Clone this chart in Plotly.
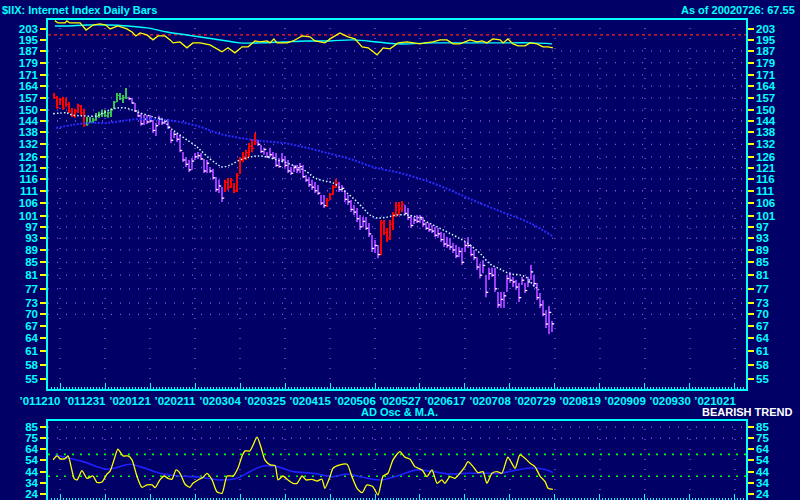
import plotly.graph_objects as go

# ---------------- data (day index: 0 = 2001-12-10, one unit per trading day) ----------------
days = list(range(-2, 165))

bar_high = [159.9, 158.1, 157.0, 157.6, 157.0, 154.6, 151.2, 150.7, 153.5, 152.9,
            150.7, 146.2, 146.2, 145.7, 148.4, 149.0, 150.1, 150.1, 149.0, 150.7,
            155.2, 159.9, 159.9, 158.7, 162.9, 157.6, 157.0, 154.0, 149.0, 148.4,
            147.3, 147.3, 147.3, 144.6, 143.0, 146.8, 145.7, 145.1, 145.1, 139.3,
            138.3, 137.7, 136.7, 128.3, 125.9, 124.5, 125.4, 127.8, 128.3, 127.8,
            125.0, 124.5, 121.3, 120.4, 116.8, 115.6, 112.6, 115.6, 116.4, 116.4,
            114.3, 118.6, 125.9, 128.3, 129.3, 132.7, 134.7, 137.7, 134.2, 131.7,
            130.3, 128.3, 130.3, 128.3, 127.8, 125.4, 127.8, 126.4, 124.5, 121.3,
            122.2, 122.2, 123.1, 122.2, 117.7, 116.8, 115.6, 114.7, 113.4, 109.3,
            109.3, 108.0, 110.1, 113.4, 116.0, 114.7, 113.4, 111.3, 109.3, 107.2,
            105.3, 104.1, 101.4, 100.6, 100.6, 98.4, 94.1, 92.4, 90.7, 99.5,
            99.5, 96.6, 99.5, 102.5, 106.4, 106.4, 106.8, 105.3, 104.1, 101.4,
            100.6, 101.4, 101.4, 100.6, 98.8, 98.4, 97.7, 97.0, 96.6, 95.2,
            94.8, 93.4, 93.1, 91.4, 90.7, 90.0, 89.7, 91.7, 93.4, 90.7,
            89.0, 86.6, 84.6, 85.7, 81.1, 83.3, 83.3, 83.3, 76.1, 76.1,
            76.1, 81.1, 82.0, 80.5, 79.6, 78.7, 80.5, 78.7, 80.5, 84.2,
            81.1, 78.7, 75.8, 73.8, 71.1, 72.2, 68.3]

bar_low = [156.4, 150.7, 152.9, 150.1, 151.8, 148.4, 146.2, 145.7, 148.4, 147.3,
           140.9, 141.4, 143.0, 143.0, 144.1, 145.7, 146.2, 146.2, 145.7, 146.2,
           150.7, 154.6, 155.8, 154.0, 156.4, 155.8, 153.5, 149.0, 146.2, 141.4,
           141.9, 142.4, 143.0, 137.7, 136.2, 141.9, 141.9, 142.4, 139.8, 132.7,
           135.2, 133.2, 128.1, 123.6, 121.3, 119.1, 120.0, 124.5, 125.0, 124.5,
           118.6, 118.6, 118.6, 115.6, 110.5, 110.1, 106.4, 110.5, 111.3, 112.1,
           110.1, 110.5, 118.2, 123.6, 124.5, 125.9, 128.1, 131.7, 131.2, 127.8,
           126.9, 125.4, 125.9, 125.0, 121.3, 120.9, 123.6, 120.9, 118.6, 117.7,
           119.1, 118.6, 118.6, 116.4, 114.7, 112.6, 111.3, 110.1, 109.3, 105.3,
           104.1, 104.5, 107.2, 109.3, 112.1, 110.5, 110.5, 106.4, 105.3, 102.5,
           101.4, 98.8, 95.9, 97.0, 95.9, 93.4, 88.3, 88.0, 86.3, 87.3,
           94.1, 91.7, 92.4, 95.9, 100.6, 101.4, 102.5, 101.4, 99.5, 96.6,
           98.0, 98.4, 98.4, 97.0, 95.9, 95.2, 94.8, 93.4, 93.1, 91.7,
           90.0, 89.7, 89.0, 88.0, 86.3, 86.6, 84.2, 88.3, 89.7, 86.9,
           85.7, 82.6, 80.0, 81.6, 74.6, 79.6, 80.5, 76.1, 71.7, 71.7,
           71.7, 76.1, 78.7, 77.5, 76.7, 73.3, 78.1, 75.8, 77.5, 79.6,
           77.5, 73.8, 71.7, 69.5, 66.5, 65.0, 65.5]

bar_close = [157.0, 151.5, 156.0, 151.0, 153.0, 149.5, 147.0, 149.5, 152.5, 148.5,
             142.0, 142.5, 143.5, 144.5, 146.5, 147.5, 148.0, 146.8, 148.5, 150.0,
             154.5, 158.5, 156.5, 157.0, 157.0, 156.5, 154.0, 149.5, 146.8, 142.5,
             145.0, 143.5, 144.0, 139.0, 141.5, 145.0, 143.0, 144.0, 140.5, 134.0,
             137.0, 134.5, 129.0, 124.5, 122.5, 120.0, 124.0, 126.0, 126.5, 125.0,
             119.5, 123.0, 119.5, 116.5, 111.5, 113.0, 108.0, 114.5, 112.5, 115.5,
             111.0, 117.5, 124.5, 126.0, 128.0, 131.0, 130.0, 133.0, 132.0, 128.5,
             129.5, 126.0, 127.0, 125.5, 122.0, 121.5, 124.5, 122.0, 119.5, 118.5,
             121.0, 120.0, 121.5, 117.0, 115.5, 113.5, 112.5, 111.0, 110.0, 106.0,
             105.0, 107.0, 109.5, 112.5, 114.0, 111.5, 112.0, 107.5, 106.5, 103.5,
             102.5, 100.0, 97.0, 99.0, 96.5, 94.5, 89.5, 90.5, 87.5, 98.5,
             95.0, 93.0, 98.0, 101.5, 105.0, 104.0, 105.5, 102.0, 100.5, 97.5,
             99.5, 99.0, 100.5, 98.0, 96.5, 96.0, 95.5, 94.0, 94.5, 92.5,
             91.0, 90.5, 90.0, 89.0, 87.0, 88.5, 85.0, 90.5, 90.5, 87.5,
             86.5, 83.5, 81.0, 84.0, 76.0, 81.5, 81.0, 77.0, 72.5, 74.0,
             75.0, 80.0, 79.5, 79.0, 77.5, 74.5, 79.5, 76.5, 79.0, 82.0,
             78.5, 74.5, 72.5, 70.0, 67.5, 70.5, 67.55]

# R = red, G = green, P = purple bar
bar_kind = ("RRRRRRRRRRR" + "GGGGGGGGGGGGGG" + "P" * 32 + "R" * 11 + "P" * 23 +
            "RRRR" + "P" * 14 + "R" * 8 + "P" * 50)

# short moving average (dotted white) and long moving average (dotted blue)
ma_short_day = [-2.3, 2.3, 4, 7.7, 12.3, 14.3, 17.7, 19.3, 21.7, 24, 26.7, 31, 34.3, 36.7, 39,
                42.3, 45.7, 46.7, 50, 52.3, 54, 56.7, 60, 63.3, 65.7, 69, 72.3, 75.7, 79,
                82.3, 85, 88.3, 91, 94.3, 97.7, 101, 103.3, 105.7, 109, 112.3, 115.7, 119,
                122.3, 125.7, 129, 132.3, 135.7, 140, 143.3, 146.7, 150, 153.3, 155.7,
                157.7, 159.7]
ma_short_val = [147.9, 148.4, 147.3, 146.8, 146.8, 148.4, 150.7, 151.2, 151.2, 150.1, 148.4,
                146.2, 144.6, 140.4, 137.7, 134.2, 130.7, 129.3, 125.0, 122.7, 121.3, 122.2,
                124.5, 125.9, 126.4, 125.9, 124.5, 123.1, 121.3, 119.1, 116.4, 115.1, 114.3,
                111.3, 108.0, 104.1, 101.4, 100.3, 100.6, 101.4, 101.4, 100.6, 98.8, 97.0,
                95.2, 93.4, 91.4, 87.9, 84.5, 82.9, 81.4, 81.1, 80.2, 78.1, 76.7]

ma_long_day = [-1.3, 4.3, 10, 15.7, 21, 26.7, 34.3, 40, 46.7, 53.3, 60, 66.7, 74.3, 82.3, 89,
               96.7, 104.3, 113.3, 122.3, 130, 136.7, 145.7, 156.7, 164]
ma_long_val = [140.3, 141.9, 143.0, 143.0, 144.1, 145.1, 144.6, 143.5, 140.9, 137.2, 135.2,
               133.7, 132.7, 130.3, 127.8, 125.0, 121.3, 118.6, 115.1, 111.3, 107.6, 103.3,
               98.4, 93.8]

# relative strength line (yellow) and its average (cyan), drawn on the price scale
rs_day = [-1.7, -0.7, 1.7, 2.3, 3.3, 6.7, 8.7, 11, 13.3, 15.3, 16.7, 19.3, 22.3, 24, 25.3,
          26.7, 29, 31, 32.7, 35, 36.7, 37.7, 40, 42.3, 44.3, 46.7, 50, 51.7, 54, 56, 58.3,
          60.7, 62.7, 65, 66.7, 69, 70, 71.3, 72.3, 75.7, 77.7, 80.7, 83.3, 85, 88.3, 90,
          93.3, 96, 98.3, 100.7, 102.7, 105.7, 107.7, 110, 112.7, 115.7, 120, 121.7, 124.3,
          126.7, 129, 131, 133.3, 135, 136.7, 139, 140.7, 142.3, 144.3, 146.7, 147.7, 149.3,
          151, 152.7, 155, 156.7, 159, 161, 162.7, 164.3]
rs_val = [209.4, 207.6, 207.6, 209.2, 207.6, 207.6, 202.2, 206.0, 206.8, 206.0, 203.0, 205.3,
          203.0, 200.7, 197.8, 200.0, 198.5, 194.9, 197.8, 197.8, 194.9, 192.7, 193.4, 189.2,
          192.7, 192.7, 191.3, 189.2, 186.4, 189.2, 185.7, 189.9, 189.9, 194.1, 193.4, 194.1,
          192.7, 195.6, 192.7, 192.7, 194.1, 197.8, 197.1, 194.1, 192.7, 195.6, 200.0, 197.1,
          195.6, 189.9, 189.2, 184.3, 189.2, 188.5, 192.7, 193.4, 192.0, 192.7, 193.4, 194.9,
          194.9, 192.0, 192.0, 193.4, 194.9, 193.4, 194.1, 192.7, 195.6, 194.9, 192.7, 195.6,
          192.0, 190.6, 190.6, 192.7, 192.0, 189.9, 189.9, 189.2]
rs_ma_day = [-1.7, 2.3, 9, 15.7, 22.3, 29, 35.7, 42.3, 49, 55.7, 60, 66.7, 74.3, 82.3, 90,
             97.7, 105.7, 112.7, 124.3, 135.7, 146.7, 157.7, 164]
rs_ma_val = [205.3, 205.3, 206.0, 206.0, 205.3, 203.8, 200.7, 198.5, 196.3, 194.1, 192.7,
             192.7, 193.4, 194.1, 194.1, 194.9, 193.4, 192.0, 192.7, 192.7, 192.7, 192.7, 192.0]
rs_ref_level = 198.5

# AD oscillator and its moving average
osc_day = [-2.3, -1, 0, 1.7, 2.7, 3.7, 4.7, 5.7, 7.3, 9, 11, 12.3, 14, 15.7, 16.7, 18, 19.3,
           21, 22.7, 24, 25.7, 27.3, 29, 30.7, 31.7, 33.3, 34.7, 36, 37.3, 38.7, 40, 41.7,
           43.3, 44.3, 46, 47.7, 49, 50.7, 52.3, 54, 55.7, 57.7, 59.3, 60.7, 61.7, 63.3, 65.7,
           67, 68.3, 70, 71.7, 72.7, 74.3, 76, 77.7, 79, 80.7, 82, 84, 85.7, 87.3, 88.3, 90,
           91, 93.3, 95.7, 97.3, 99, 100.7, 102.3, 104.3, 106, 107.7, 109.3, 111, 113.3, 115,
           116.7, 118.3, 120.7, 122.3, 124, 125.7, 127.3, 128.3, 130, 131.7, 133.3, 135, 136,
           137.7, 139.3, 141, 142.3, 144, 145.7, 147.3, 149.3, 151.7, 153.3, 155, 156.7,
           158.3, 160, 161.7, 162.7, 164.3]
osc_val = [55.0, 58.6, 56.2, 56.2, 58.6, 48.8, 38.1, 36.6, 45.1, 38.1, 40.2, 34.4, 34.7, 42.1,
           44.6, 55.0, 64.8, 58.6, 58.6, 55.0, 39.6, 29.9, 32.0, 32.0, 29.5, 36.6, 40.2, 38.1,
           37.2, 45.8, 42.7, 32.6, 29.9, 33.5, 36.6, 39.0, 42.7, 36.6, 25.8, 24.3, 40.2, 40.2,
           47.3, 58.6, 63.2, 63.2, 75.8, 66.6, 55.0, 50.4, 49.7, 36.6, 40.2, 36.6, 33.5, 33.5,
           40.2, 36.6, 37.2, 35.6, 37.2, 28.9, 39.6, 47.3, 50.4, 51.0, 39.6, 28.9, 24.9, 32.0,
           30.4, 22.8, 40.2, 42.7, 55.0, 62.6, 57.4, 55.6, 48.8, 45.8, 39.6, 45.8, 33.5, 36.6,
           33.5, 39.6, 38.1, 42.7, 48.8, 53.4, 48.8, 43.3, 44.2, 33.5, 42.7, 44.2, 42.7, 57.4,
           47.3, 59.5, 56.5, 51.9, 48.8, 40.2, 35.0, 28.9, 28.0]
osc_ma_day = [-1.7, 7.7, 15.7, 23.3, 26.7, 33.3, 40, 46.7, 53.3, 59, 63.3, 67.7, 72.3, 77.7,
              84.3, 91, 95.7, 100, 106.7, 113.3, 119, 124.3, 130, 135.7, 141, 146.7, 152.3,
              155.7, 159, 162.3, 164.3]
osc_ma_val = [59.5, 53.4, 46.4, 51.0, 48.8, 42.7, 40.2, 39.0, 36.6, 38.1, 44.2, 49.4, 48.8,
              44.2, 42.7, 39.6, 42.1, 39.6, 36.6, 41.0, 45.8, 44.2, 42.1, 42.7, 42.7, 42.7,
              45.8, 47.3, 47.3, 45.8, 43.3]
osc_levels = [60, 40]

# axis ticks
date_tick_days = [0, 15, 30, 45, 60, 75, 90, 105, 120, 135, 150, 165, 180, 195, 210, 225]
date_tick_text = ["’011210", "’011231", "’020121", "’020211", "’020304", "’020325",
                  "’020415", "’020506", "’020527", "’020617", "’020708", "’020729",
                  "’020819", "’020909", "’020930", "’021021"]
price_ticks = [55, 58, 61, 64, 67, 70, 73, 77, 81, 85, 89, 93, 97, 101, 106, 111, 116, 121,
               126, 132, 138, 144, 150, 157, 164, 171, 179, 187, 195, 203]
price_grid = [70, 73, 77, 81, 85, 89, 93, 97, 101, 106, 111, 116, 121, 126, 132, 138, 144,
              150, 157, 164, 171, 179, 187]
osc_tick_vals = [24, 34.17, 44.33, 54.5, 64.67, 74.83, 85]
osc_tick_text = ["24", "34", "44", "54", "64", "75", "85"]
osc_grid = [85, 74.83]

# ---------------- styling ----------------
NAVY = "#000066"
CYAN = "#00ffff"
YELLOW = "#ffff00"
GRID = "#8a55ee"
COLORS = {"R": "#ff0000", "G": "#3cbf5a", "P": "#9a3cf5"}
TICKCOL = {"R": "#ff0000", "G": "#3cbf5a", "P": "#ffffff"}
FONT = "Arial"


def bold(labels):
    return ["<b>%s</b>" % t for t in labels]


fig = go.Figure()

# bars
for kind in "RGP":
    xs, ys, tx, ty = [], [], [], []
    for d, h, l, c, k in zip(days, bar_high, bar_low, bar_close, bar_kind):
        if k != kind:
            continue
        xs += [d, d, None]
        ys += [l, h, None]
        tx += [d, d + 0.75, None]
        ty += [c, c, None]
    fig.add_trace(go.Scatter(x=xs, y=ys, mode="lines", line=dict(color=COLORS[kind], width=2),
                             xaxis="x", yaxis="y", hoverinfo="skip", showlegend=False))
    fig.add_trace(go.Scatter(x=tx, y=ty, mode="lines", line=dict(color=TICKCOL[kind], width=1.3),
                             xaxis="x", yaxis="y", hoverinfo="skip", showlegend=False))

fig.add_trace(go.Scatter(x=ma_long_day, y=ma_long_val, mode="lines",
                         line=dict(color="#2a2aff", width=2, dash="2px,1.5px", shape="spline"),
                         xaxis="x", yaxis="y", showlegend=False))
fig.add_trace(go.Scatter(x=ma_short_day, y=ma_short_val, mode="lines",
                         line=dict(color="#ccffff", width=1.5, dash="1.5px,2px", shape="spline"),
                         xaxis="x", yaxis="y", showlegend=False))

# relative strength panel lines
fig.add_trace(go.Scatter(x=rs_ma_day, y=rs_ma_val, mode="lines",
                         line=dict(color=CYAN, width=1.4, shape="spline"),
                         xaxis="x", yaxis="y", showlegend=False))
fig.add_trace(go.Scatter(x=rs_day, y=rs_val, mode="lines",
                         line=dict(color=YELLOW, width=1.3),
                         xaxis="x", yaxis="y", showlegend=False))

# oscillator
fig.add_trace(go.Scatter(x=osc_ma_day, y=osc_ma_val, mode="lines",
                         line=dict(color="#2020ff", width=1.6, shape="spline"),
                         xaxis="x2", yaxis="y3", showlegend=False))
fig.add_trace(go.Scatter(x=osc_day, y=osc_val, mode="lines",
                         line=dict(color=YELLOW, width=1.3, shape="spline", smoothing=0.6),
                         xaxis="x2", yaxis="y3", showlegend=False))

# right-side mirror axes need a trace each to be drawn
fig.add_trace(go.Scatter(x=[None], y=[None], xaxis="x", yaxis="y2", showlegend=False))
fig.add_trace(go.Scatter(x=[None], y=[None], xaxis="x2", yaxis="y4", showlegend=False))

shapes = []
for g in price_grid:
    shapes.append(dict(type="line", xref="x domain", yref="y", x0=0, x1=1, y0=g, y1=g,
                       line=dict(color=GRID, width=1.3, dash="1px,8px"), layer="below"))
for d in date_tick_days:
    shapes.append(dict(type="line", xref="x", yref="y domain", x0=d, x1=d, y0=0, y1=1,
                       line=dict(color=GRID, width=1.3, dash="1px,9px"), layer="below"))
    shapes.append(dict(type="line", xref="x2", yref="y3 domain", x0=d, x1=d, y0=0, y1=1,
                       line=dict(color=GRID, width=1.3, dash="1px,9px"), layer="below"))
shapes.append(dict(type="line", xref="x domain", yref="y", x0=0, x1=1,
                   y0=rs_ref_level, y1=rs_ref_level,
                   line=dict(color="#ff2020", width=1.2, dash="3px,3px"), layer="below"))
for g in osc_grid:
    shapes.append(dict(type="line", xref="x2 domain", yref="y3", x0=0, x1=1, y0=g, y1=g,
                       line=dict(color=GRID, width=1.3, dash="1px,8px"), layer="below"))
for g in osc_levels:
    shapes.append(dict(type="line", xref="x2 domain", yref="y3", x0=0, x1=1, y0=g, y1=g,
                       line=dict(color="#00ff00", width=1.6, dash="2px,6px"), layer="below"))

tickfont = dict(family=FONT, size=11.5, color=CYAN)
xr = [-4, 228.67]
yr = [1.7241, 2.3220]
y3r = [18.2, 91.1]

common_y = dict(showline=True, linecolor=CYAN, linewidth=1.5, ticks="outside", ticklen=6,
                tickwidth=2, tickcolor=YELLOW, tickfont=tickfont, showgrid=False,
                zeroline=False, fixedrange=True)

price_text = bold([str(v) for v in price_ticks])

fig.update_layout(
    width=800, height=500,
    margin=dict(l=48, r=54, t=20, b=0),
    paper_bgcolor=NAVY, plot_bgcolor=NAVY,
    showlegend=False,
    shapes=shapes,
    xaxis=dict(domain=[0, 1], anchor="y", range=xr, showgrid=False, zeroline=False,
               showline=True, mirror=True, linecolor=CYAN, linewidth=1.5,
               tickmode="array", tickvals=date_tick_days, ticktext=bold(date_tick_text),
               ticks="inside", ticklen=6, tickwidth=1, tickcolor=CYAN,
               tickfont=tickfont, ticklabelshift=-20,
               minor=dict(tickmode="linear", tick0=0, dtick=1, ticks="inside", ticklen=2,
                          tickcolor=CYAN, tickwidth=1, showgrid=False)),
    yaxis=dict(domain=[0.23125, 1], anchor="x", type="log", range=yr, side="left",
               tickmode="array", tickvals=price_ticks, ticktext=price_text, **common_y),
    yaxis2=dict(overlaying="y", anchor="x", type="log", range=yr, side="right",
                tickmode="array", tickvals=price_ticks, ticktext=price_text, **common_y),
    xaxis2=dict(domain=[0, 1], anchor="y3", range=xr, showgrid=False, zeroline=False,
                showline=True, mirror=True, linecolor=CYAN, linewidth=1.5,
                tickmode="array", tickvals=date_tick_days, showticklabels=False,
                ticks="inside", ticklen=6, tickcolor=CYAN,
                minor=dict(tickmode="linear", tick0=0, dtick=1, ticks="inside", ticklen=2,
                           tickcolor=CYAN, tickwidth=1, showgrid=False)),
    yaxis3=dict(domain=[0, 0.1656], anchor="x2", range=y3r, side="left",
                tickmode="array", tickvals=osc_tick_vals, ticktext=bold(osc_tick_text),
                **common_y),
    yaxis4=dict(overlaying="y3", anchor="x2", range=y3r, side="right",
                tickmode="array", tickvals=osc_tick_vals, ticktext=bold(osc_tick_text),
                **common_y),
)

title_font = dict(family=FONT, size=11, color=CYAN)
fig.add_annotation(text="<b>$IIX: Internet Index Daily Bars</b>", xref="paper", yref="paper",
                   x=-0.0688, y=1.0208, xanchor="left", yanchor="middle", showarrow=False,
                   font=title_font)
fig.add_annotation(text="<b>As of 20020726: 67.55</b>", xref="paper", yref="paper",
                   x=1.0731, y=1.0208, xanchor="right", yanchor="middle", showarrow=False,
                   font=title_font)
fig.add_annotation(text="<b>AD Osc &amp; M.A.</b>", xref="paper", yref="paper",
                   x=0.5036, y=0.184, xanchor="center", yanchor="middle", showarrow=False,
                   font=title_font)
fig.add_annotation(text="<b>BEARISH TREND</b>", xref="paper", yref="paper",
                   x=1.0702, y=0.184, xanchor="right", yanchor="middle", showarrow=False,
                   font=dict(family=FONT, size=11, color="#ffffff"))

fig.write_html("out.html", config={"displayModeBar": False},
               post_script="document.body.style.margin='0';document.body.style.overflow='hidden';")
